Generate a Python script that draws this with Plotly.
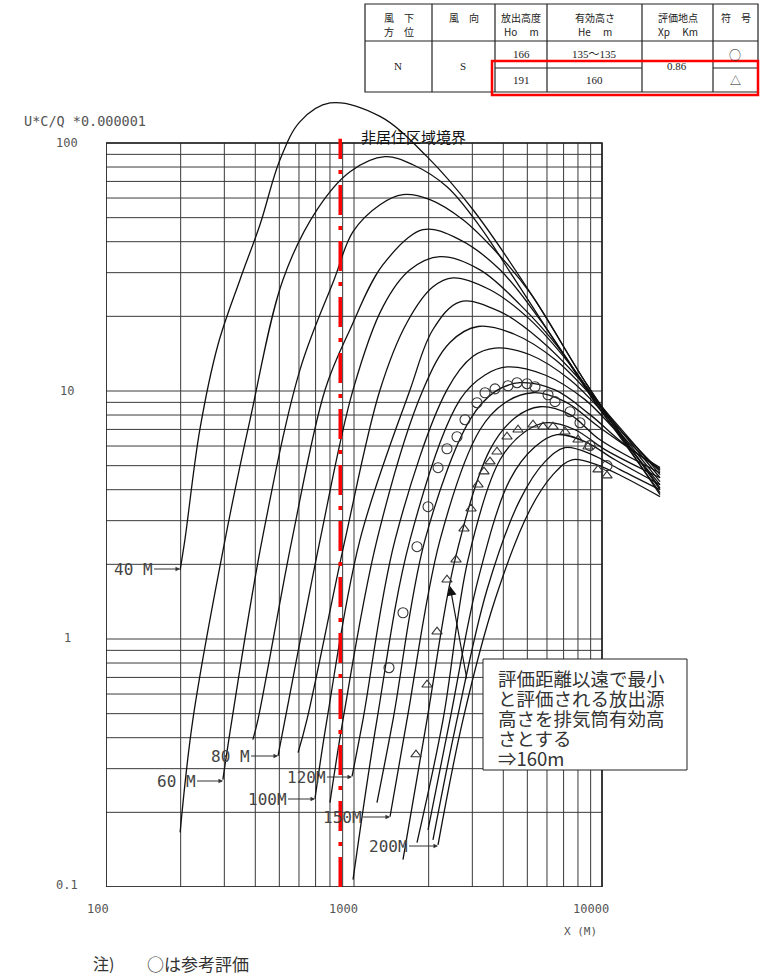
import plotly.graph_objects as go

# ---- page / plot-area geometry (760 x 980 page, log paper 248 px per decade)
W, H = 760, 980
L, R, T, B = 106, 80, 95, 93
DEC = 248.0
PW, PH = W - L - R, H - T - B

# ---- curve data : distance X (m) vs U*C/Q (x1e-6), one pair per effective height
x40 = [199, 208, 239, 283, 347, 418, 503, 606, 800, 1273, 1970, 3019, 5368, 8700, 17140]
y40 = [1.90, 2.51, 6.98, 15.4, 28.1, 46.9, 85.6, 122, 145, 128, 88.1, 53.8, 23.3, 10.6, 3.82]
x50 = [199, 224, 302, 381, 517, 709, 964, 1334, 1729, 2371, 3221, 4377, 8700, 17140]
y50 = [0.166, 0.473, 2.51, 7.66, 28.1, 53.8, 76.6, 88.1, 81.7, 66.6, 46.0, 28.9, 10.1, 3.89]
x60 = [296, 322, 426, 606, 831, 991, 1273, 1576, 2025, 2751, 3772, 5125, 8700, 17140]
y60 = [0.271, 0.473, 2.51, 12.2, 28.1, 43.9, 56.4, 61.9, 59.1, 49.0, 36.1, 24.9, 10.6, 4.00]
x70 = [391, 410, 562, 764, 964, 1309, 1897, 2676, 3880, 5623, 8946, 17140]
y70 = [0.393, 0.473, 2.51, 10.1, 17.7, 32.3, 44.7, 40.7, 30.8, 19.4, 9.84, 4.07]
x80 = [494, 527, 730, 991, 1309, 1682, 2223, 3221, 4670, 6770, 9815, 17140]
y80 = [0.338, 0.473, 2.51, 10.1, 21.9, 30.8, 34.8, 30.8, 22.3, 14.7, 8.41, 4.19]
x90 = [595, 646, 920, 1273, 1636, 2082, 2507, 3535, 5125, 7430, 10772, 17140]
y90 = [0.348, 0.473, 2.51, 10.1, 18.9, 26.3, 28.6, 25.6, 19.4, 12.8, 7.66, 4.31]
x100 = [696, 778, 1057, 1682, 2082, 2676, 3880, 5623, 8151, 11820, 17140]
y100 = [0.227, 0.473, 2.51, 10.1, 17.7, 22.9, 20.9, 16.1, 11.1, 6.98, 4.47]
x110 = [800, 903, 1238, 1897, 2438, 3162, 4460, 6465, 9371, 17140]
y110 = [0.219, 0.473, 2.51, 10.1, 15.7, 18.2, 16.9, 13.4, 9.23, 4.60]
x120 = [982, 1087, 1464, 2371, 3019, 3703, 5125, 7430, 10772, 17140]
y120 = [0.279, 0.473, 2.51, 10.1, 13.8, 14.9, 14.0, 11.1, 7.66, 4.73]
x130 = [991, 1238, 1682, 2676, 3375, 4140, 5891, 8541, 11820, 17140]
y130 = [0.107, 0.473, 2.51, 9.23, 11.6, 12.5, 11.6, 9.23, 6.67, 4.82]
x140 = [1238, 1437, 1933, 2936, 3703, 4670, 6465, 8946, 12380, 17140]
y140 = [0.219, 0.473, 2.51, 7.66, 9.94, 10.8, 10.1, 8.03, 6.07, 4.91]
x150 = [1397, 1636, 2223, 3221, 4063, 5270, 7093, 9815, 17140]
y150 = [0.192, 0.473, 2.51, 6.98, 8.97, 9.84, 9.06, 7.11, 4.82]
x160 = [1576, 1970, 2555, 3535, 4460, 5623, 7430, 9815, 17140]
y160 = [0.129, 0.473, 2.09, 5.80, 7.80, 8.64, 8.03, 6.36, 4.68]
x170 = [1795, 2286, 2883, 3880, 4892, 6000, 7784, 10283, 17140]
y170 = [0.151, 0.473, 2.09, 5.28, 6.85, 7.45, 6.98, 5.80, 4.47]
x180 = [1988, 2438, 3162, 4256, 5368, 6584, 8541, 11280, 17140]
y180 = [0.170, 0.473, 1.73, 4.39, 5.96, 6.67, 6.25, 5.28, 4.19]
x190 = [2082, 2602, 3438, 4670, 5891, 7093, 9115, 11820, 17140]
y190 = [0.155, 0.473, 1.58, 3.64, 5.19, 5.91, 5.54, 4.82, 4.00]
x200 = [2182, 2751, 3703, 5125, 6345, 7568, 9546, 12380, 17140]
y200 = [0.148, 0.473, 1.44, 3.32, 4.60, 5.28, 5.04, 4.47, 3.75]

curves = [(x40, y40), (x50, y50), (x60, y60), (x70, y70), (x80, y80), (x90, y90),
          (x100, y100), (x110, y110), (x120, y120), (x130, y130), (x140, y140),
          (x150, y150), (x160, y160), (x170, y170), (x180, y180), (x190, y190),
          (x200, y200)]

# reference evaluation marks
circle_x = [1384, 1576, 1795, 1988, 2182, 2371, 2602, 2803, 3133, 3375, 3703, 4178,
            4543, 4985, 5368, 6058, 6465, 7430, 8151, 8946, 10476]
circle_y = [0.766, 1.276, 2.356, 3.416, 4.906, 5.85, 6.54, 7.66, 8.97, 9.84, 10.2, 10.5,
            10.8, 10.7, 10.4, 9.66, 9.06, 8.25, 7.45, 6.02, 5.0]
tri_x = [1778, 1970, 2162, 2371, 2578, 2776, 2964, 3162, 3343, 3535, 3772, 4140,
         4585, 5270, 5783, 6345, 7093, 8003, 8780, 9635, 10476]
tri_y = [0.342, 0.654, 1.07, 1.734, 2.088, 2.785, 3.353, 4.19, 4.73, 5.19, 5.69, 6.54,
         6.98, 7.31, 7.18, 7.18, 6.85, 6.36, 5.96, 4.82, 4.56]

BOUNDARY_X = 880
BOUNDARY_Y = [0.1, 104]

# table at the top right
table_head = [["風　下", "方　位"], ["風　向"], ["放出高度", "Ho　 m"],
              ["有効高さ", "He　 m"], ["評価地点", "Xp　 Km"], ["符　号"]]
row1 = ["166", "135～135", "○"]
row2 = ["191", "160", "△"]

note_lines = ["評価距離以遠で最小", "と評価される放出源", "高さを排気筒有効高",
              "さとする", "⇒160m"]

MONO = "DejaVu Sans Mono"
CJK = "Noto Sans CJK JP"
SERIF = "Liberation Serif, Noto Sans CJK JP"


def fx(p):
    return (p - L) / PW


def fy(p):
    return (H - B - p) / PH


fig = go.Figure()

# log-paper grid, only between 100..10000 m and 0.1..100
gx, gy = [], []
for dec in (100, 1000):
    for k in range(1, 10):
        gx += [k * dec, k * dec, None]
        gy += [0.1, 100, None]
gx += [10000, 10000, None]
gy += [0.1, 100, None]
for dec in (0.1, 1, 10):
    for k in range(1, 10):
        gx += [100, 10000, None]
        gy += [k * dec, k * dec, None]
gx += [100, 10000]
gy += [100, 100]
fig.add_trace(go.Scatter(x=gx, y=gy, mode="lines", line=dict(color="#3a3a3a", width=1),
                         hoverinfo="skip", showlegend=False))
fig.add_trace(go.Scatter(x=[100, 10000, 10000, 100, 100], y=[0.1, 0.1, 100, 100, 0.1],
                         mode="lines", line=dict(color="#222", width=1.6),
                         hoverinfo="skip", showlegend=False))

for cx, cy in curves:
    fig.add_trace(go.Scatter(x=cx, y=cy, mode="lines", line=dict(color="#111", width=1.3, shape="spline", smoothing=1.0),
                             showlegend=False))

fig.add_trace(go.Scatter(x=[BOUNDARY_X, BOUNDARY_X], y=BOUNDARY_Y, mode="lines",
                         line=dict(color="#ff0000", width=3.5, dash="30px,11px,4px,11px"),
                         showlegend=False))

fig.add_trace(go.Scatter(x=circle_x, y=circle_y, mode="markers",
                         marker=dict(symbol="circle-open", size=10, color="#333", line=dict(width=1.1)),
                         showlegend=False))
fig.add_trace(go.Scatter(x=tri_x, y=tri_y, mode="markers",
                         marker=dict(symbol="triangle-up-open", size=9, color="#333", line=dict(width=1.1)),
                         showlegend=False))

ann = []
shapes = []

# axis texts
for txt, yp in [("100", 143), ("10", 391), ("1", 638), ("0.1", 885)]:
    ann.append(dict(x=fx(67), y=fy(yp), text=txt, font=dict(family=MONO, size=12, color="#555")))
for txt, xp in [("100", 98), ("1000", 343), ("10000", 591)]:
    ann.append(dict(x=fx(xp), y=fy(909), text=txt, font=dict(family=MONO, size=12, color="#555")))
ann.append(dict(x=fx(580), y=fy(931), text="X (M)", font=dict(family=MONO, size=11, color="#555")))
ann.append(dict(x=fx(22), y=fy(121), text="U*C/Q *0.000001", xanchor="left",
                font=dict(family=MONO, size=13.5, color="#555")))
ann.append(dict(x=fx(413), y=fy(136), text="非居住区域境界", font=dict(family=CJK, size=15, color="#111")))

# curve labels with arrows
for txt, tip, ty, off in [("40 M", 180, 569, -47), ("60 M", 223, 781, -47), ("80 M", 278, 756, -48),
                          ("100M", 315, 799, -48), ("120M", 352, 777, -46), ("150M", 390, 817, -48),
                          ("200M", 438, 846, -50)]:
    ann.append(dict(x=fx(tip), y=fy(ty), text=txt, showarrow=True, ax=off, ay=0,
                    arrowhead=2, arrowsize=0.9, arrowwidth=1, arrowcolor="#333",
                    font=dict(family=MONO, size=16, color="#444")))

# explanation box
shapes.append(dict(type="rect", xref="paper", yref="paper", x0=fx(483), x1=fx(687), y0=fy(770), y1=fy(659),
                   line=dict(color="#222", width=1), fillcolor="white", layer="above"))
for i, line in enumerate(note_lines):
    ann.append(dict(x=fx(496), y=fy(678 + i * 20), text=line, xanchor="left",
                    font=dict(family=CJK, size=18.5, color="#333")))
ann.append(dict(x=fx(450), y=fy(586), text="", showarrow=True, ax=17, ay=94,
                arrowhead=2, arrowsize=1.6, arrowwidth=1.2, arrowcolor="#111"))

# footnote
ann.append(dict(x=fx(91), y=fy(963), text="注)", xanchor="left", font=dict(family=CJK, size=16, color="#333")))
ann.append(dict(x=fx(145), y=fy(963), text="○は参考評価", xanchor="left", font=dict(family=CJK, size=17, color="#333")))

# table
cols = [365, 432, 495, 547, 642, 713, 758]
top, mid, split, bot = 4, 41, 68, 92
tl = dict(color="#222", width=1.2)
shapes.append(dict(type="rect", xref="paper", yref="paper", x0=fx(365), x1=fx(758), y0=fy(bot), y1=fy(top), line=tl))
shapes.append(dict(type="line", xref="paper", yref="paper", x0=fx(365), x1=fx(758), y0=fy(mid), y1=fy(mid), line=tl))
for c in cols[1:-1]:
    shapes.append(dict(type="line", xref="paper", yref="paper", x0=fx(c), x1=fx(c), y0=fy(bot), y1=fy(top), line=tl))
for a, b in [(495, 642), (713, 758)]:
    shapes.append(dict(type="line", xref="paper", yref="paper", x0=fx(a), x1=fx(b), y0=fy(split), y1=fy(split), line=tl))
for i, head in enumerate(table_head):
    cxp = (cols[i] + cols[i + 1]) / 2
    ys = [18, 32] if len(head) == 2 else [18]
    for t, yp in zip(head, ys):
        ann.append(dict(x=fx(cxp), y=fy(yp), text=t, font=dict(family=CJK, size=10, color="#222")))
for t, cxp in [("N", 398), ("S", 463), ("0.86", 677)]:
    ann.append(dict(x=fx(cxp), y=fy(66), text=t, font=dict(family=SERIF, size=11, color="#222")))
for t, cxp in zip(row1[:2], [521, 594]):
    ann.append(dict(x=fx(cxp), y=fy(54), text=t, font=dict(family=SERIF, size=11, color="#222")))
for t, cxp in zip(row2[:2], [521, 594]):
    ann.append(dict(x=fx(cxp), y=fy(80), text=t, font=dict(family=SERIF, size=11, color="#222")))
ann.append(dict(x=fx(735), y=fy(54), text=row1[2], font=dict(family=CJK, size=12, color="#222")))
ann.append(dict(x=fx(735), y=fy(80), text=row2[2], font=dict(family=CJK, size=11, color="#222")))
shapes.append(dict(type="rect", xref="paper", yref="paper", x0=fx(492), x1=fx(758), y0=fy(95), y1=fy(61),
                   line=dict(color="#ff0000", width=2.5)))

for a in ann:
    a.setdefault("showarrow", False)
    a.setdefault("xanchor", "center")
    a.setdefault("yanchor", "middle")
    a["xref"] = "paper"
    a["yref"] = "paper"

fig.update_layout(
    width=W, height=H,
    margin=dict(l=L, r=R, t=T, b=B, autoexpand=False),
    paper_bgcolor="white", plot_bgcolor="white",
    showlegend=False,
    xaxis=dict(type="log", range=[2, 2 + PW / DEC], showgrid=False, zeroline=False,
               showticklabels=False, showline=False, ticks=""),
    yaxis=dict(type="log", range=[-1, -1 + PH / DEC], showgrid=False, zeroline=False,
               showticklabels=False, showline=False, ticks=""),
    annotations=ann, shapes=shapes,
)

fig.write_html("out.html", config={"displayModeBar": False},
               post_script="document.body.style.margin='0px';")
